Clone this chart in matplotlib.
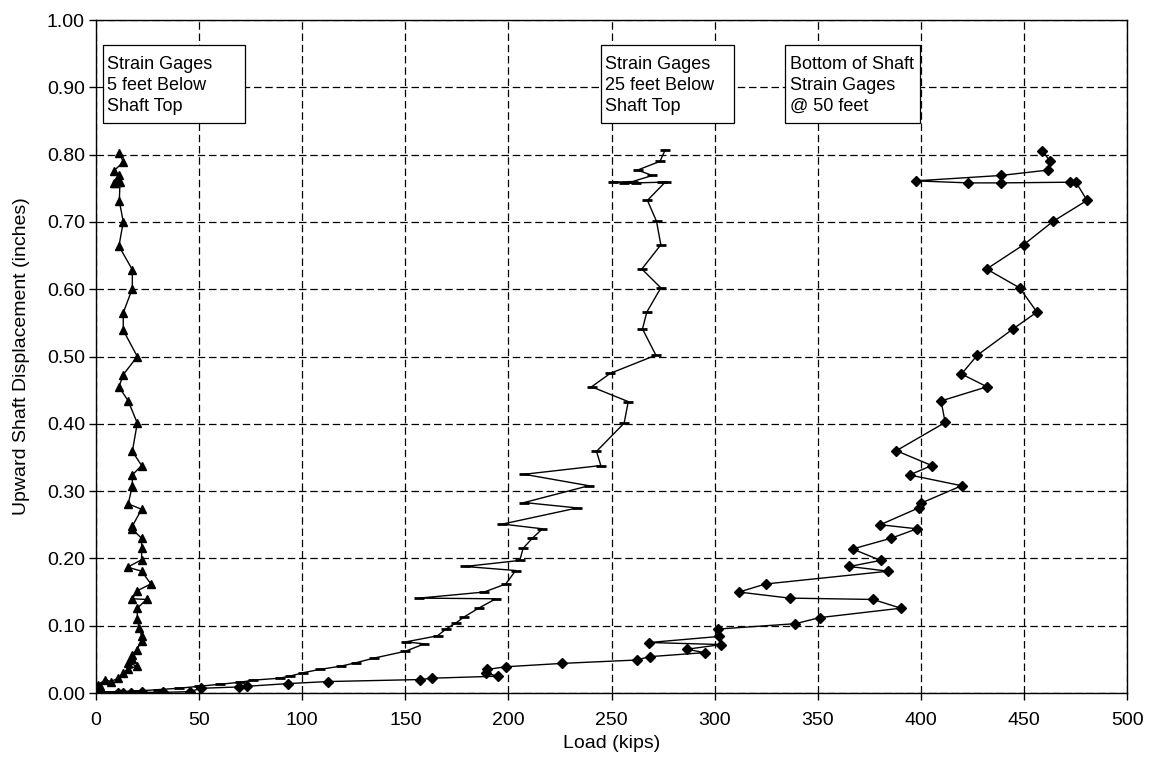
import matplotlib
matplotlib.use("Agg")
import matplotlib.pyplot as plt
from matplotlib.patches import Rectangle
from matplotlib.ticker import MultipleLocator, FormatStrFormatter

plt.rcParams['font.family'] = ['Liberation Sans', 'DejaVu Sans']

# ---- data: Load (kips) vs upward shaft displacement (inches) ----
load_5ft = [0, 0.3, 0.6, 1.0, 1.5, 0.5, 2.0, 1.1, 4.4, 7.1, 10.8, 13.2, 15.6, 19.7, 15.6,
            17.6, 17.6, 19.7, 22.1, 22.1, 20.8, 20.0, 20.0, 24.5, 17.6, 20.0, 26.6, 22.1,
            15.3, 22.1, 22.1, 22.1, 17.6, 17.6, 22.1, 15.6, 17.6, 17.6, 22.1, 17.6, 20.0,
            15.6, 11.1, 13.2, 20.0, 13.2, 13.2, 17.6, 17.6, 11.1, 13.2, 11.3, 11.6, 10.5,
            9.0, 8.5, 10.0, 11.0, 8.7, 13.2, 11.3]
disp_5ft = [0, 0.001, 0.002, 0.003, 0.005, 0.008, 0.010, 0.012, 0.020, 0.017, 0.022, 0.030,
            0.035, 0.040, 0.045, 0.050, 0.057, 0.064, 0.077, 0.085, 0.097, 0.110, 0.126,
            0.139, 0.140, 0.152, 0.162, 0.181, 0.187, 0.198, 0.216, 0.230, 0.243, 0.248,
            0.273, 0.281, 0.308, 0.324, 0.338, 0.359, 0.401, 0.434, 0.455, 0.473, 0.500,
            0.539, 0.565, 0.601, 0.629, 0.664, 0.700, 0.731, 0.760, 0.759, 0.758, 0.758,
            0.761, 0.769, 0.776, 0.789, 0.803]

load_25ft = [0, 1, 3, 6, 10, 20, 30, 40, 50, 60, 70, 76, 89, 93.9, 100.3, 108.4, 118.9,
             126.1, 135, 150, 159.2, 150.3, 165.6, 169.7, 174.5, 178.5, 185.5, 193.9, 156.8,
             188.2, 198.7, 203.5, 179, 205.5, 207.1, 211.6, 216.5, 197.1, 233.4, 207.6, 239,
             207.6, 244.8, 242.7, 256.1, 258.1, 240.3, 249.4, 271.5, 265, 267.1, 273.9,
             264.7, 273.9, 271.8, 267.4, 276.3, 274.5, 262, 256, 250.5, 260.2, 269.8, 262.6,
             273.5, 276]
disp_25ft = [0, 0.000, 0.001, 0.001, 0.002, 0.003, 0.005, 0.007, 0.010, 0.013, 0.016, 0.019,
             0.022, 0.025, 0.030, 0.035, 0.040, 0.045, 0.052, 0.062, 0.073, 0.076, 0.085,
             0.095, 0.104, 0.113, 0.126, 0.140, 0.141, 0.150, 0.162, 0.182, 0.188, 0.197,
             0.215, 0.230, 0.244, 0.251, 0.275, 0.283, 0.308, 0.325, 0.338, 0.359, 0.401,
             0.433, 0.455, 0.475, 0.502, 0.541, 0.566, 0.602, 0.630, 0.666, 0.701, 0.732,
             0.760, 0.759, 0.758, 0.758, 0.759, 0.760, 0.769, 0.777, 0.790, 0.807]

load_50ft = [0, 10.5, 13, 17, 22.2, 32.7, 45.4, 51, 69.2, 73.3, 93.2, 112.3, 157.3, 162.9,
             194.8, 188.9, 189.7, 198.7, 226.1, 262.1, 268.5, 295.2, 286.5, 303.2, 268.2,
             302.1, 301.6, 339.2, 350.9, 390.3, 376.8, 336.3, 311.8, 324.7, 384.2, 365.3,
             380.5, 366.9, 385.6, 398.1, 380.3, 398.9, 400, 419.8, 394.5, 405.3, 388.1,
             411.8, 409.8, 432.1, 419.7, 427.4, 444.7, 456.3, 447.9, 431.9, 449.8, 464.2,
             480.6, 475, 472.1, 439, 422.9, 397.6, 438.7, 461.6, 462.7, 458.9]
disp_50ft = [0, 0, 0, 0.0005, 0.001, 0.001, 0.002, 0.007, 0.009, 0.010, 0.014, 0.017, 0.020,
             0.022, 0.025, 0.030, 0.035, 0.039, 0.044, 0.049, 0.054, 0.060, 0.065, 0.072,
             0.075, 0.084, 0.095, 0.103, 0.112, 0.126, 0.139, 0.141, 0.150, 0.162, 0.181,
             0.188, 0.197, 0.214, 0.230, 0.244, 0.250, 0.275, 0.282, 0.308, 0.324, 0.338,
             0.360, 0.402, 0.434, 0.455, 0.474, 0.502, 0.541, 0.566, 0.602, 0.630, 0.666,
             0.701, 0.732, 0.760, 0.759, 0.758, 0.758, 0.761, 0.769, 0.777, 0.790, 0.806]

labels = ["Strain Gages\n5 feet Below\nShaft Top",
          "Strain Gages\n25 feet Below\nShaft Top",
          "Bottom of Shaft\nStrain Gages\n@ 50 feet"]

x_label = "Load (kips)"
y_label = "Upward Shaft Displacement (inches)"

# annotation box extents (data units: left, right)
box_lr = [(3.4, 72.1), (244.8, 309.6), (334.3, 399.6)]
box_bottom, box_top = 0.847, 0.963

fig = plt.figure(figsize=(11.53, 7.70), dpi=100)
ax = fig.add_axes([0.0833, 0.100, 0.8942, 0.874])

ax.plot(load_5ft, disp_5ft, color='black', lw=1.0, marker='^', ms=6.4,
        mfc='black', mec='black', zorder=3)
ax.plot(load_25ft, disp_25ft, color='black', lw=1.0, marker='_', ms=7,
        mew=2.0, mec='black', zorder=3)
ax.plot(load_50ft, disp_50ft, color='black', lw=1.0, marker='D', ms=5,
        mfc='black', mec='black', zorder=3)

ax.set_xlim(0, 500)
ax.set_ylim(0, 1.0)
ax.xaxis.set_major_locator(MultipleLocator(50))
ax.yaxis.set_major_locator(MultipleLocator(0.1))
ax.yaxis.set_major_formatter(FormatStrFormatter('%.2f'))
ax.grid(True, color='black', linestyle=(0, (6, 3)), linewidth=0.9)
ax.set_axisbelow(True)
for s in ax.spines.values():
    s.set_linewidth(1.0)
    s.set_color('black')
ax.tick_params(direction='out', length=5, width=1.0, labelsize=14, colors='black')
ax.tick_params(axis='x', pad=9)
ax.tick_params(axis='y', pad=3)
ax.set_xlabel(x_label, fontsize=14, labelpad=4)
ax.set_ylabel(y_label, fontsize=14, labelpad=12)

for (bl, br), txt in zip(box_lr, labels):
    ax.add_patch(Rectangle((bl, box_bottom), br - bl, box_top - box_bottom,
                           facecolor='white', edgecolor='black', lw=0.9, zorder=4))
    ax.text(bl + 2.0, 0.947, txt, ha='left', va='top', fontsize=13,
            linespacing=1.32, zorder=5)

fig.savefig('out.png', dpi=100)
